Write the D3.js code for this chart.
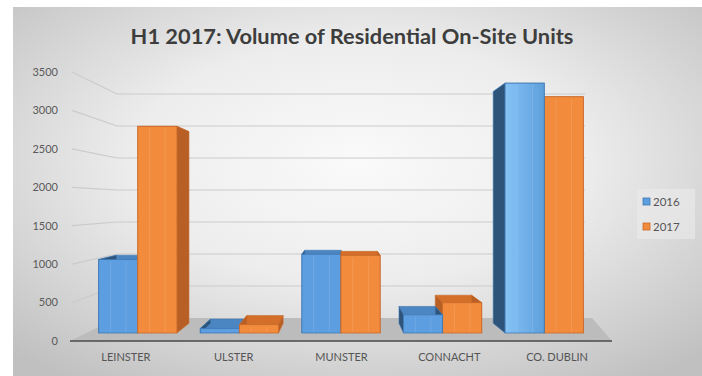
<!DOCTYPE html>
<html>
<head>
<meta charset="utf-8">
<script src="https://cdn.jsdelivr.net/npm/d3@7/dist/d3.min.js"></script>
<style>
  html, body { margin: 0; padding: 0; background: #ffffff; }
  svg { display: block; }
</style>
</head>
<body>
<svg id="chart" width="702" height="376"></svg>
<script>
// ---------- data ----------
const categories = ["LEINSTER", "ULSTER", "MUNSTER", "CONNACHT", "CO. DUBLIN"];
const seriesNames = ["2016", "2017"];
const values2016 = [970, 60, 1040, 240, 3300];
const values2017 = [2730, 110, 1025, 400, 3120];
const tickValues = [0, 500, 1000, 1500, 2000, 2500, 3000, 3500];
const titleText = "H1 2017: Volume of Residential On-Site Units";

// ---------- setup ----------
const svg = d3.select("#chart");
const W = 702, H = 376;
const defs = svg.append("defs");

const bg = defs.append("radialGradient").attr("id", "bgGrad")
  .attr("cx", "50%").attr("cy", "42%").attr("r", "72%");
bg.append("stop").attr("offset", "0%").attr("stop-color", "#fafafa");
bg.append("stop").attr("offset", "45%").attr("stop-color", "#ededed");
bg.append("stop").attr("offset", "100%").attr("stop-color", "#c0c0c0");

svg.append("rect").attr("x", 13).attr("y", 7).attr("width", W - 13).attr("height", H - 7)
  .attr("fill", "url(#bgGrad)");

// title
svg.append("text").attr("x", 352).attr("y", 44).attr("text-anchor", "middle")
  .attr("font-family", "Lato, 'Open Sans', sans-serif").attr("font-weight", "bold")
  .attr("font-size", 21.8).attr("fill", "#3d3d3d").text(titleText);

// ---------- scales ----------
const yLabel = d3.scaleLinear().domain([0, 3500]).range([341, 72]);   // side-wall / axis labels
const yBack  = d3.scaleLinear().domain([0, 3500]).range([318, 94]);   // back-wall gridlines
const yBar   = d3.scaleLinear().domain([0, 3500]).range([333, 68]);   // front faces of bars

const xBand = d3.scaleBand().domain(categories).range([87, 595]).paddingInner(0.23).paddingOuter(0.115);
const xSub = d3.scaleBand().domain(seriesNames).range([0, xBand.bandwidth()]);
const xLab = d3.scaleBand().domain(categories).range([72, 611]);

const V = { x: 342, y: 200 }, T = 0.073;
const back = p => [p[0] + (V.x - p[0]) * T, p[1] + (V.y - p[1]) * T];

const wallLeft = 117, wallRight = 585;

// floor
const floorPts = [[70, 341], [612, 341], [592, 318], [wallLeft, 318]];
svg.append("polygon").attr("points", floorPts.map(p => p.join(",")).join(" "))
  .attr("fill", "#bcbcbc");

// gridlines (side wall segment + back wall)
const grid = svg.append("g").attr("stroke", "#cbcbcb").attr("stroke-width", 1.2).attr("fill", "none");
tickValues.filter(v => v > 0).forEach(v => {
  grid.append("path").attr("d", `M72,${yLabel(v)} L${wallLeft},${yBack(v)} L${wallRight},${yBack(v)}`);
});

// axis line at floor front
svg.append("line").attr("x1", 70).attr("x2", 612).attr("y1", 341).attr("y2", 341)
  .attr("stroke", "#4a4a4a").attr("stroke-width", 1.6);

// y tick labels
svg.append("g").selectAll("text").data(tickValues).join("text")
  .attr("x", 58).attr("y", d => yLabel(d)).attr("dy", "0.35em").attr("text-anchor", "end")
  .attr("font-family", "Lato, 'Open Sans', sans-serif").attr("font-size", 11)
  .attr("fill", "#5a5a5a").text(d => d);

// category labels
svg.append("g").selectAll("text").data(categories).join("text")
  .attr("x", d => xLab(d) + xLab.bandwidth() / 2).attr("y", 361).attr("text-anchor", "middle")
  .attr("font-family", "Lato, 'Open Sans', sans-serif").attr("font-size", 11)
  .attr("fill", "#555555").text(d => d);

// ---------- bars ----------
const colors = {
  "2016": { front: "#5c9ee0", top: "#4b86c2", side: "#2f5479", stroke: "#3f78b3" },
  "2017": { front: "#f28b3c", top: "#d46f2a", side: "#b85f26", stroke: "#c9692a" }
};
const bars = [];
categories.forEach((c, i) => {
  [[seriesNames[0], values2016[i]], [seriesNames[1], values2017[i]]].forEach(([s, v]) => {
    const x0 = xBand(c) + xSub(s), x1 = x0 + xSub.bandwidth();
    bars.push({ c, s, v, x0, x1, yt: yBar(v), yb: yBar(0), dublin: c === "CO. DUBLIN" });
  });
});
bars.sort((a, b) => Math.abs((b.x0 + b.x1) / 2 - V.x) - Math.abs((a.x0 + a.x1) / 2 - V.x));

const fg = defs.append("linearGradient").attr("id", "dubBlue").attr("x1", "0").attr("x2", "1");
fg.append("stop").attr("offset", "0%").attr("stop-color", "#86c3f5");
fg.append("stop").attr("offset", "100%").attr("stop-color", "#5e9fdc");

const barG = svg.append("g");
const poly = pts => pts.map(p => p.join(",")).join(" ");
bars.forEach(b => {
  const col = colors[b.s];
  const ftl = [b.x0, b.yt], ftr = [b.x1, b.yt], fbl = [b.x0, b.yb], fbr = [b.x1, b.yb];
  const btl = back(ftl), btr = back(ftr), bbl = back(fbl), bbr = back(fbr);
  const g = barG.append("g");
  g.append("polygon").attr("points", poly([ftl, ftr, btr, btl])).attr("fill", col.top).attr("stroke", col.stroke).attr("stroke-width", 0.6);
  g.append("polygon").attr("points", poly([ftr, fbr, bbr, btr])).attr("fill", col.side).attr("stroke", col.stroke).attr("stroke-width", 0.6);
  g.append("polygon").attr("points", poly([ftl, fbl, bbl, btl])).attr("fill", col.side).attr("stroke", col.stroke).attr("stroke-width", 0.6);
  g.append("rect").attr("x", b.x0).attr("y", b.yt).attr("width", b.x1 - b.x0).attr("height", b.yb - b.yt)
    .attr("fill", (b.dublin && b.s === "2016") ? "url(#dubBlue)" : col.front)
    .attr("stroke", col.stroke).attr("stroke-width", 0.8);
  // faint inner vertical strokes
  [0.3, 0.7].forEach(f => {
    g.append("line").attr("x1", b.x0 + (b.x1 - b.x0) * f).attr("x2", b.x0 + (b.x1 - b.x0) * f)
      .attr("y1", b.yt + 2).attr("y2", b.yb - 1).attr("stroke", "#ffffff").attr("stroke-opacity", 0.12);
  });
});

// ---------- legend ----------
const leg = svg.append("g");
leg.append("rect").attr("x", 637).attr("y", 189).attr("width", 58).attr("height", 50)
  .attr("fill", "#ebebeb").attr("opacity", 0.6);
seriesNames.forEach((s, i) => {
  const y = 202 + i * 25;
  leg.append("rect").attr("x", 643).attr("y", y - 4).attr("width", 7).attr("height", 7)
    .attr("fill", colors[s].front).attr("stroke", colors[s].stroke).attr("stroke-width", 0.8);
  leg.append("text").attr("x", 653).attr("y", y).attr("dy", "0.35em")
    .attr("font-family", "Lato, 'Open Sans', sans-serif").attr("font-size", 11.5)
    .attr("fill", "#555555").text(s);
});
</script>
</body>
</html>
